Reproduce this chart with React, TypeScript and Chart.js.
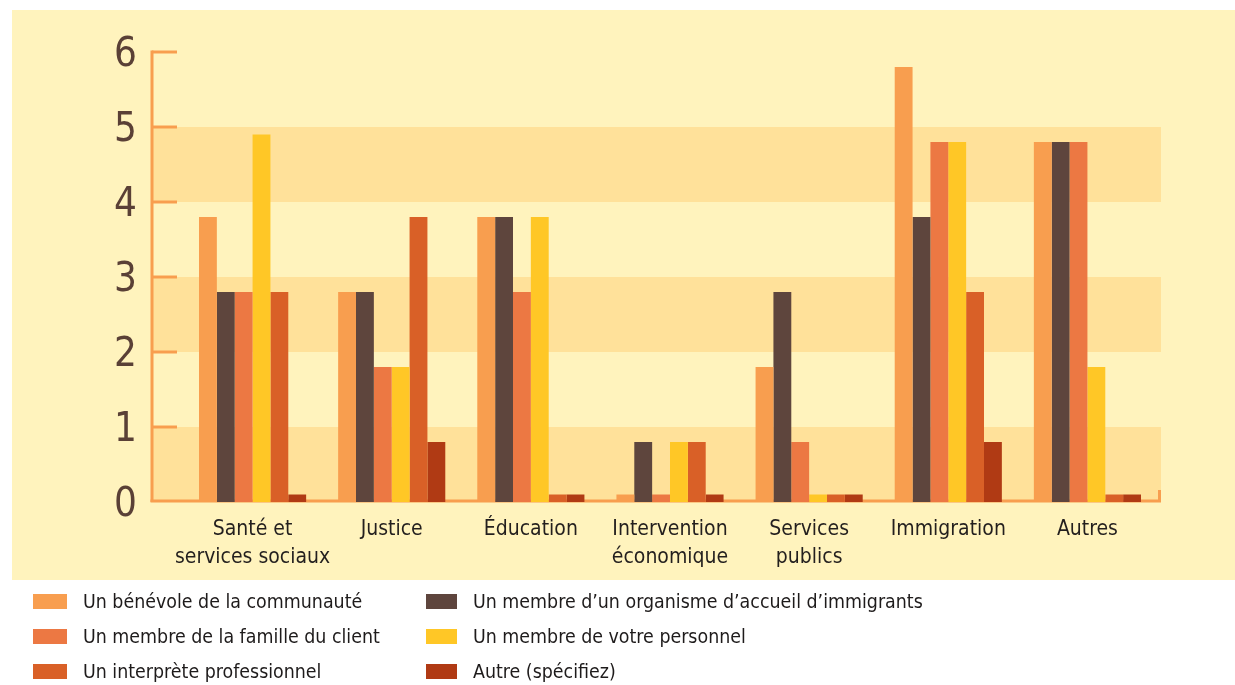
import React, { useEffect, useRef } from "react";
import { Chart, registerables } from "chart.js";

Chart.register(...registerables);

const categories: (string | string[])[] = [
  ["Santé et", "services sociaux"],
  "Justice",
  "Éducation",
  ["Intervention", "économique"],
  ["Services", "publics"],
  "Immigration",
  "Autres",
];

const seriesNames = [
  "Un bénévole de la communauté",
  "Un membre d’un organisme d’accueil d’immigrants",
  "Un membre de la famille du client",
  "Un membre de votre personnel",
  "Un interprète professionnel",
  "Autre (spécifiez)",
];

const benevole = [3.8, 2.8, 3.8, 0.1, 1.8, 5.8, 4.8];
const organisme = [2.8, 2.8, 3.8, 0.8, 2.8, 3.8, 4.8];
const famille = [2.8, 1.8, 2.8, 0.1, 0.8, 4.8, 4.8];
const personnel = [4.9, 1.8, 3.8, 0.8, 0.1, 4.8, 1.8];
const interprete = [2.8, 3.8, 0.1, 0.8, 0.1, 2.8, 0.1];
const autre = [0.1, 0.8, 0.1, 0.1, 0.1, 0.8, 0.1];

const seriesValues = [benevole, organisme, famille, personnel, interprete, autre];
const seriesColors = ["#F89E4F", "#5E453D", "#EC7843", "#FFC726", "#D96027", "#B03A14"];

const yTicks = [0, 1, 2, 3, 4, 5, 6];

// legend layout order: column 1 then column 2
const legendColumns = [
  [0, 2, 4],
  [1, 3, 5],
];

const FONT = "'DejaVu Sans Condensed', 'Liberation Sans Narrow', sans-serif";
const AXIS_COLOR = "#F89E4F";
const BAND_DARK = "#FFE19A";

const decorPlugin = {
  id: "decor",
  beforeDatasetsDraw(chart: any) {
    const { ctx, chartArea, scales } = chart;
    const y = scales.y;
    const axisX = chartArea.left - 31;
    const bandRight = chartArea.right + 4;
    ctx.save();
    for (let i = 0; i < yTicks.length - 1; i++) {
      if (i % 2 === 0) {
        const top = y.getPixelForValue(yTicks[i + 1]);
        const bottom = y.getPixelForValue(yTicks[i]);
        ctx.fillStyle = BAND_DARK;
        ctx.fillRect(axisX, top, bandRight - axisX, bottom - top);
      }
    }
    ctx.strokeStyle = AXIS_COLOR;
    ctx.lineWidth = 3;
    ctx.lineCap = "butt";
    const y0 = y.getPixelForValue(0);
    const yTop = y.getPixelForValue(yTicks[yTicks.length - 1]);
    ctx.beginPath();
    ctx.moveTo(axisX, yTop - 1.5);
    ctx.lineTo(axisX, y0);
    ctx.stroke();
    for (const t of yTicks) {
      if (t === 0) continue;
      const py = y.getPixelForValue(t);
      ctx.beginPath();
      ctx.moveTo(axisX, py);
      ctx.lineTo(axisX + 25, py);
      ctx.stroke();
    }
    ctx.beginPath();
    ctx.moveTo(axisX - 1.5, y0 - 1);
    ctx.lineTo(bandRight - 1.5, y0 - 1);
    ctx.lineTo(bandRight - 1.5, y0 - 12);
    ctx.stroke();
    ctx.restore();
  },
};

function ChartCanvas() {
  const ref = useRef<HTMLCanvasElement | null>(null);
  useEffect(() => {
    if (!ref.current) return;
    const chart = new Chart(ref.current, {
      type: "bar",
      data: {
        labels: categories as any,
        datasets: seriesValues.map((vals, i) => ({
          label: seriesNames[i],
          data: vals,
          backgroundColor: seriesColors[i],
          borderWidth: 0,
          categoryPercentage: 0.77,
          barPercentage: 1,
        })),
      },
      options: {
        responsive: false,
        animation: false,
        maintainAspectRatio: false,
        layout: { padding: { top: 52, right: 78, bottom: 93, left: 0 } },
        plugins: {
          legend: { display: false },
          tooltip: { enabled: false },
        },
        scales: {
          x: {
            grid: { display: false, drawTicks: false },
            border: { display: false },
            ticks: {
              color: "#231F1E",
              font: { family: FONT, size: 21, lineHeight: 1.35 },
              padding: 13,
              maxRotation: 0,
              autoSkip: false,
            },
            afterFit: (scale: any) => {
              scale.height = 90;
              scale.paddingLeft = 0;
              scale.paddingRight = 0;
            },
          },
          y: {
            min: 0,
            max: 6,
            grid: { display: false, drawTicks: false },
            border: { display: false },
            ticks: {
              stepSize: 1,
              color: "#5A4036",
              font: { family: FONT, size: 40 },
              padding: 46,
              labelOffset: 4,
            },
            afterFit: (scale: any) => {
              scale.width = 183;
              scale.paddingTop = 0;
              scale.paddingBottom = 0;
            },
          },
        },
      },
      plugins: [decorPlugin],
    } as any);
    return () => chart.destroy();
  }, []);
  return (
    <canvas
      ref={ref}
      width={1235}
      height={685}
      style={{ position: "absolute", left: 0, top: 0, width: 1235, height: 685 }}
    />
  );
}

export default function App() {
  const rowTops = [594, 629, 664];
  const colSwatchX = [33, 426];
  const colSwatchW = [34, 31];
  const colTextX = [83, 473];
  return (
    <div
      style={{
        position: "fixed",
        left: 0,
        top: 0,
        width: 1235,
        height: 685,
        background: "#FFFFFF",
        overflow: "hidden",
      }}
    >
      <div
        style={{
          position: "absolute",
          left: 12,
          top: 10,
          width: 1223,
          height: 570,
          background: "#FFF3BD",
        }}
      />
      <ChartCanvas />
      {legendColumns.map((col, c) =>
        col.map((si, r) => (
          <React.Fragment key={`${c}-${r}`}>
            <div
              style={{
                position: "absolute",
                left: colSwatchX[c],
                top: rowTops[r],
                width: colSwatchW[c],
                height: 15,
                background: seriesColors[si],
              }}
            />
            <div
              style={{
                position: "absolute",
                left: colTextX[c],
                top: rowTops[r] + 7.5 - 13,
                height: 26,
                lineHeight: "26px",
                fontFamily: FONT,
                fontSize: 19.4,
                color: "#1E1B1B",
                whiteSpace: "nowrap",
              }}
            >
              {seriesNames[si]}
            </div>
          </React.Fragment>
        ))
      )}
    </div>
  );
}
